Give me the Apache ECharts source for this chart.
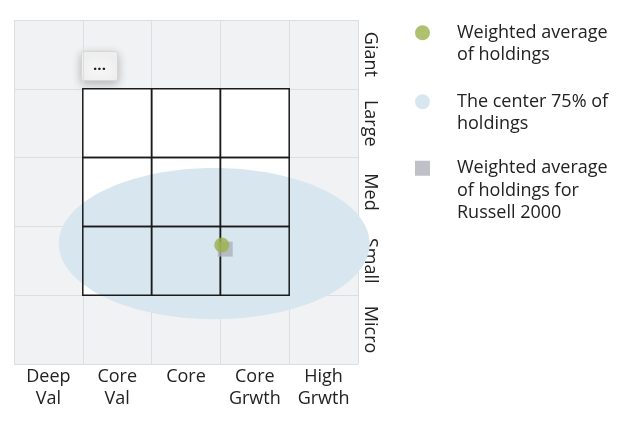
<!DOCTYPE html>
<html>
<head>
<meta charset="utf-8">
<script src="https://cdn.jsdelivr.net/npm/echarts@6/dist/echarts.min.js"></script>
<style>
  html, body { margin: 0; padding: 0; background: #fff; }
  #chart-container { width: 640px; height: 446px; }
</style>
</head>
<body>
<div id="chart-container"></div>
<script>
// style columns and size rows
const styleLabels = ['Deep\nVal', 'Core\nVal', 'Core', 'Core\nGrwth', 'High\nGrwth'];
const sizeLabels = ['Micro', 'Small', 'Med', 'Large', 'Giant'];

// the 3x3 box, lower-left corner of each cell
const boxCells = [
  [1, 1], [2, 1], [3, 1],
  [1, 2], [2, 2], [3, 2],
  [1, 3], [2, 3], [3, 3]
];

// center 75% of holdings: [center x, center y, radius x, radius y]
const center75 = [[2.91, 1.75, 2.26, 1.1]];
const fundAverage = [[3.02, 1.73]];
const indexAverage = [[3.07, 1.67]];

const names = {
  fund: 'Weighted average\nof holdings',
  zone: 'The center 75% of\nholdings',
  index: 'Weighted average\nof holdings for\nRussell 2000'
};

const FONT = 'Open Sans';
const TEXT = '#222';
const GREEN = '#9bb24a';
const ZONE = '#d8e6ef';
const GRAY = '#aeb2b9';

let myChart = echarts.init(document.getElementById('chart-container'), null, {
  renderer: 'canvas'
});

function cellRect(params, api, style) {
  const topLeft = api.coord([api.value(0), api.value(1) + 1]);
  const size = api.size([1, 1]);
  return {
    type: 'rect',
    shape: { x: topLeft[0], y: topLeft[1], width: size[0], height: size[1] },
    style: style
  };
}

// one legend per entry; blank lines in front keep the icon on the first text line
function legendFor(name, icon, top) {
  const lines = name.split('\n').length;
  return {
    data: [{ name: name, icon: icon }],
    left: 410,
    top: top,
    orient: 'vertical',
    itemWidth: 15,
    itemHeight: 15,
    selectedMode: false,
    formatter: (n) => '\n'.repeat(lines - 1) + n,
    textStyle: {
      fontFamily: FONT,
      fontSize: 18,
      color: TEXT,
      lineHeight: 22.5,
      padding: [0, 0, 0, 22]
    }
  };
}

const opciones = {
  animation: false,
  textStyle: { fontFamily: FONT },
  grid: {
    left: 14, top: 20, width: 344, height: 344,
    show: true, backgroundColor: '#f1f2f4', borderWidth: 0
  },
  xAxis: [{
    type: 'value', min: 0, max: 5, interval: 1,
    axisLine: { show: false }, axisTick: { show: false }, axisLabel: { show: false },
    splitLine: { lineStyle: { color: '#dcdfe2', width: 1 } }
  }, {
    type: 'category', data: styleLabels, position: 'bottom',
    axisLine: { show: false }, axisTick: { show: false }, splitLine: { show: false },
    axisLabel: { fontFamily: FONT, fontSize: 18, color: TEXT, lineHeight: 22, margin: 2 }
  }],
  yAxis: [{
    type: 'value', min: 0, max: 5, interval: 1,
    axisLine: { show: false }, axisTick: { show: false }, axisLabel: { show: false },
    splitLine: { lineStyle: { color: '#dcdfe2', width: 1 } }
  }, {
    type: 'category', data: sizeLabels, position: 'right',
    axisLine: { show: false }, axisTick: { show: false }, splitLine: { show: false },
    axisLabel: { fontFamily: FONT, fontSize: 18, color: TEXT, rotate: -90, margin: 3 }
  }],
  legend: [
    legendFor(names.fund, 'circle', -6),
    legendFor(names.zone, 'circle', 63),
    legendFor(names.index, 'rect', 107)
  ],
  graphic: [{
    type: 'group', left: 81, top: 51,
    children: [{
      type: 'rect',
      shape: { width: 36, height: 29, r: 2 },
      style: {
        fill: '#f4f4f4', stroke: '#d6d6d6', lineWidth: 1,
        shadowBlur: 10, shadowColor: 'rgba(0,0,0,0.25)', shadowOffsetY: 3
      }
    }, {
      type: 'text', x: 18, y: 14,
      style: { text: '...', fill: '#222', font: 'bold 15px ' + FONT, align: 'center', verticalAlign: 'middle' }
    }],
    z: 100
  }],
  series: [{
    type: 'custom', name: 'box fill', xAxisIndex: 0, yAxisIndex: 0,
    data: boxCells, silent: true, z: 1,
    renderItem: (params, api) => cellRect(params, api, { fill: '#fff' })
  }, {
    type: 'custom', name: names.zone, xAxisIndex: 0, yAxisIndex: 0,
    data: center75, silent: true, z: 2, itemStyle: { color: ZONE },
    renderItem: (params, api) => {
      const c = api.coord([api.value(0), api.value(1)]);
      const r = api.size([api.value(2), api.value(3)]);
      return {
        type: 'ellipse',
        shape: { cx: c[0], cy: c[1], rx: r[0], ry: r[1] },
        style: { fill: ZONE }
      };
    }
  }, {
    type: 'custom', name: 'box lines', xAxisIndex: 0, yAxisIndex: 0,
    data: boxCells, silent: true, z: 3,
    renderItem: (params, api) => cellRect(params, api, { fill: null, stroke: '#1a1a1a', lineWidth: 1.5 })
  }, {
    type: 'scatter', name: names.index, xAxisIndex: 0, yAxisIndex: 0,
    data: indexAverage, symbol: 'rect', symbolSize: 15, z: 4,
    itemStyle: { color: GRAY }
  }, {
    type: 'scatter', name: names.fund, xAxisIndex: 0, yAxisIndex: 0,
    data: fundAverage, symbol: 'circle', symbolSize: 15, z: 5,
    itemStyle: { color: GREEN }
  }]
};

myChart.setOption(opciones);
window.addEventListener('resize', myChart.resize);
</script>
</body>
</html>
